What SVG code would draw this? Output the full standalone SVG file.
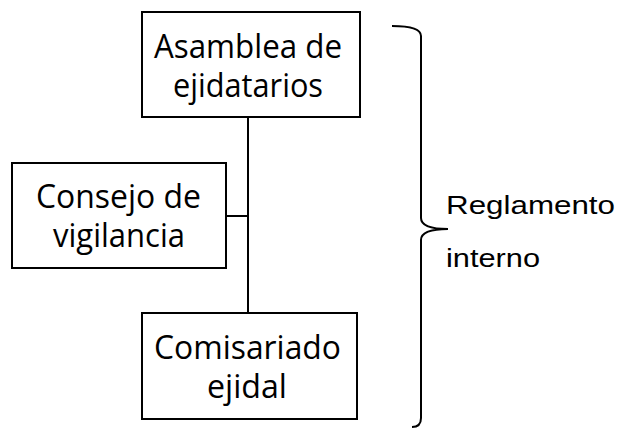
<svg xmlns="http://www.w3.org/2000/svg" width="620" height="430" viewBox="0 0 620 430">
<style>
.box{fill:#fff;stroke:#000;stroke-width:2}
.t{font-family:"Open Sans","Noto Sans","DejaVu Sans",sans-serif;font-size:33px;fill:#000;text-anchor:middle}
.r{font-family:"Liberation Sans",Arial,sans-serif;font-size:26px;fill:#000}
.ln{stroke:#000;stroke-width:2;fill:none}
</style>
<rect width="620" height="430" fill="#fff"/>
<g id="connectors">
<line class="ln" x1="248" y1="117" x2="248" y2="313"/>
<line class="ln" x1="226" y1="216" x2="248" y2="216"/>
</g>
<g id="asamblea">
<rect class="box" x="142" y="12" width="218" height="105"/>
<text class="t" x="248" y="58" textLength="188" lengthAdjust="spacingAndGlyphs">Asamblea de</text>
<text class="t" x="248" y="97" textLength="150" lengthAdjust="spacingAndGlyphs">ejidatarios</text>
</g>
<g id="consejo">
<rect class="box" x="12" y="163" width="214" height="105"/>
<text class="t" x="118.5" y="208" textLength="165" lengthAdjust="spacingAndGlyphs">Consejo de</text>
<text class="t" x="119" y="247" textLength="132" lengthAdjust="spacingAndGlyphs">vigilancia</text>
</g>
<g id="comisariado">
<rect class="box" x="142" y="313" width="215" height="106"/>
<text class="t" x="247.5" y="359" textLength="187" lengthAdjust="spacingAndGlyphs">Comisariado</text>
<text class="t" x="247" y="398" textLength="80" lengthAdjust="spacingAndGlyphs">ejidal</text>
</g>
<g id="reglamento">
<path class="ln" d="M392,26 Q421,26 421,36 L421,218 Q421,229 448,229 Q421,229 421,240 L421,418 Q421,427 412,427"/>
<text class="r" x="446" y="214" textLength="169" lengthAdjust="spacingAndGlyphs">Reglamento</text>
<text class="r" x="446" y="267" textLength="94" lengthAdjust="spacingAndGlyphs">interno</text>
</g>
</svg>
